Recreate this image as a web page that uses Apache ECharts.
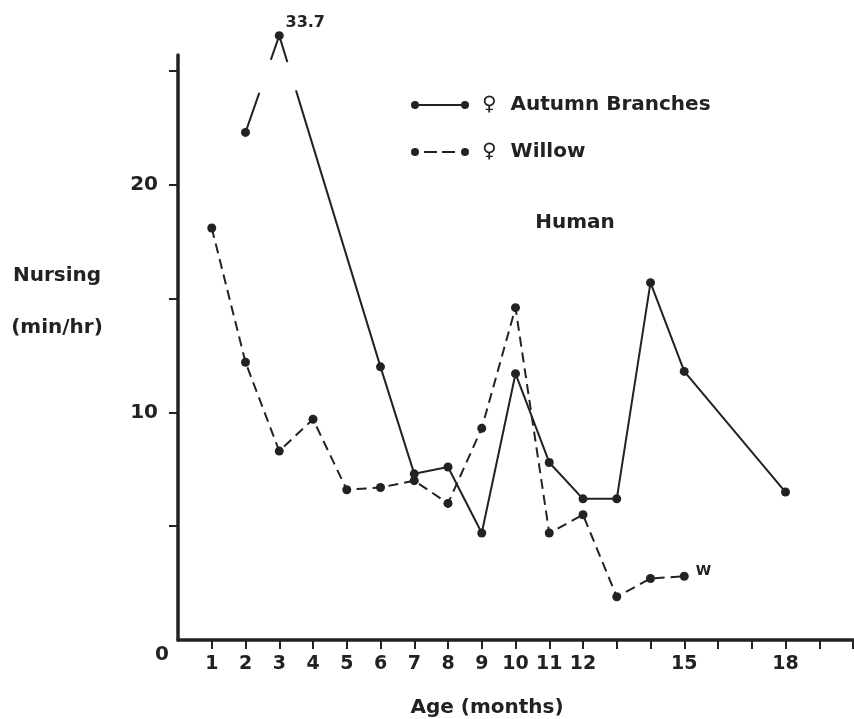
<!DOCTYPE html>
<html>
<head>
<meta charset="utf-8">
<script src="https://cdn.jsdelivr.net/npm/echarts@6.0.0/dist/echarts.min.js"></script>
<style>
html,body{margin:0;padding:0;background:#ffffff;}
#chart{width:854px;height:719px;}
</style>
</head>
<body>
<div id="chart"></div>
<script>
// ---------------- data ----------------
const autumnMonths = [2, 3, 6, 7, 8, 9, 10, 11, 12, 13, 14, 15, 18];
const autumnValues = [22.3, 33.7, 12.0, 7.3, 7.6, 4.7, 11.7, 7.8, 6.2, 6.2, 15.7, 11.8, 6.5];
const willowMonths = [1, 2, 3, 4, 5, 6, 7, 8, 9, 10, 11, 12, 13, 14, 15];
const willowValues = [18.1, 12.2, 8.3, 9.7, 6.6, 6.7, 7.0, 6.0, 9.3, 14.6, 4.7, 5.5, 1.9, 2.7, 2.8];
const xTickValues = [1, 2, 3, 4, 5, 6, 7, 8, 9, 10, 11, 12, 13, 14, 15, 16, 17, 18, 19, 20];
const xLabelValues = [1, 2, 3, 4, 5, 6, 7, 8, 9, 10, 11, 12, 15, 18];
const yTickValues = [5, 10, 15, 20, 25];
const yLabelValues = [10, 20];
const seriesNames = ['\u2640 Autumn Branches', '\u2640 Willow'];
const willowEndNote = 'W';
const yAxisTitle = ['Nursing', '(min/hr)'];
const xAxisTitle = 'Age (months)';
const annotation = 'Human';
const yMax = 25.7;          // top of drawn y axis
const offScaleLevel = 26.55; // drawing level for values beyond the axis (broken line)

// ---------------- styling ----------------
const INK = '#222222';
const FONT = '"DejaVu Sans", "Noto Sans", sans-serif';
const gapIn = [0.41, 0.75];    // break in the segment entering an off-scale point
const gapOut = [0.08, 0.165];  // break in the segment leaving an off-scale point

const autumnData = autumnMonths.map((m, i) => {
  const v = autumnValues[i];
  const off = v > yMax;
  const item = { value: [m, off ? offScaleLevel : v] };
  if (off) {
    item.label = {
      show: true, formatter: String(v), position: 'top', offset: [26, 5],
      color: INK, fontFamily: FONT, fontWeight: 'bold', fontSize: 16
    };
  }
  return item;
});

const willowData = willowMonths.map((m, i) => {
  const item = { value: [m, willowValues[i]] };
  if (i === willowMonths.length - 1) {
    item.label = {
      show: true, formatter: willowEndNote, position: 'right', offset: [2, -5],
      color: INK, fontFamily: FONT, fontWeight: 'bold', fontSize: 14
    };
  }
  return item;
});

// segments adjacent to off-scale points get a break
const breakData = [];
autumnValues.forEach((v, i) => {
  if (v > yMax) {
    const d = autumnData;
    if (i > 0) breakData.push([d[i - 1].value[0], d[i - 1].value[1], d[i].value[0], d[i].value[1], 0]);
    if (i < d.length - 1) breakData.push([d[i].value[0], d[i].value[1], d[i + 1].value[0], d[i + 1].value[1], 1]);
  }
});

const solidIcon = 'path://M0,4A4,4,0,1,0,8,4A4,4,0,1,0,0,4Z M8,3L50,3L50,5L8,5Z M50,4A4,4,0,1,0,58,4A4,4,0,1,0,50,4Z';
const dashIcon = 'path://M0,4A4,4,0,1,0,8,4A4,4,0,1,0,0,4Z M13,3L26,3L26,5L13,5Z M31,3L44,3L44,5L31,5Z M50,4A4,4,0,1,0,58,4A4,4,0,1,0,50,4Z';

const legendText = { color: INK, fontFamily: FONT, fontWeight: 'bold', fontSize: 20, padding: [0, 0, 0, 8] };
const legendFormatter = name => name.replace(' ', '  ');

const chart = echarts.init(document.getElementById('chart'), null, { renderer: 'canvas' });
chart.setOption({
  animation: false,
  backgroundColor: '#ffffff',
  grid: { left: 178, right: 1, top: 55, bottom: 79, containLabel: false },
  xAxis: {
    type: 'value', min: 0, max: 20, interval: 1,
    splitLine: { show: false },
    axisLine: { show: true, onZero: false, lineStyle: { color: INK, width: 3.5 } },
    axisTick: { show: true, length: 9, lineStyle: { color: INK, width: 2 }, customValues: xTickValues },
    axisLabel: { show: true, margin: 15, color: INK, fontFamily: FONT, fontWeight: 'bold', fontSize: 19, customValues: xLabelValues }
  },
  yAxis: {
    type: 'value', min: 0, max: yMax, interval: 5,
    splitLine: { show: false },
    axisLine: { show: true, onZero: false, lineStyle: { color: INK, width: 3.5 } },
    axisTick: { show: true, length: 9, lineStyle: { color: INK, width: 2 }, customValues: yTickValues },
    axisLabel: { show: true, margin: 20, color: INK, fontFamily: FONT, fontWeight: 'bold', fontSize: 20, customValues: yLabelValues }
  },
  legend: [
    {
      data: [{ name: seriesNames[0], icon: solidIcon }], formatter: legendFormatter,
      left: 411, top: 95, padding: 0, itemWidth: 58, itemHeight: 8,
      selectedMode: false, itemStyle: { borderWidth: 0 }, textStyle: legendText
    },
    {
      data: [{ name: seriesNames[1], icon: dashIcon }], formatter: legendFormatter,
      left: 411, top: 142, padding: 0, itemWidth: 58, itemHeight: 8,
      selectedMode: false, itemStyle: { borderWidth: 0 }, textStyle: legendText
    }
  ],
  graphic: [
    { type: 'text', x: 57, y: 276, style: { text: yAxisTitle[0], fill: INK, font: 'bold 20px ' + FONT, align: 'center', verticalAlign: 'middle' } },
    { type: 'text', x: 57, y: 328, style: { text: yAxisTitle[1], fill: INK, font: 'bold 20px ' + FONT, align: 'center', verticalAlign: 'middle' } },
    { type: 'text', x: 162, y: 655, style: { text: '0', fill: INK, font: 'bold 20px ' + FONT, align: 'center', verticalAlign: 'middle' } },
    { type: 'text', x: 487, y: 708, style: { text: xAxisTitle, fill: INK, font: 'bold 20px ' + FONT, align: 'center', verticalAlign: 'middle' } },
    { type: 'text', x: 575, y: 223, style: { text: annotation, fill: INK, font: 'bold 20px ' + FONT, align: 'center', verticalAlign: 'middle' } }
  ],
  series: [
    {
      name: seriesNames[0], type: 'line', data: autumnData, clip: false, z: 3,
      symbol: 'circle', symbolSize: 9, showAllSymbol: true,
      itemStyle: { color: INK, borderWidth: 0 },
      lineStyle: { color: INK, width: 2, type: 'solid' },
      emphasis: { disabled: true }
    },
    {
      name: seriesNames[1], type: 'line', data: willowData, clip: false, z: 2,
      symbol: 'circle', symbolSize: 9, showAllSymbol: true,
      itemStyle: { color: INK, borderWidth: 0 },
      lineStyle: { color: INK, width: 2, type: [10, 6] },
      emphasis: { disabled: true }
    },
    {
      type: 'custom', data: breakData, z: 4, silent: true, clip: false,
      renderItem: function (params, api) {
        const p1 = api.coord([api.value(0), api.value(1)]);
        const p2 = api.coord([api.value(2), api.value(3)]);
        const g = api.value(4) === 0 ? gapIn : gapOut;
        return {
          type: 'line',
          shape: {
            x1: p1[0] + (p2[0] - p1[0]) * g[0], y1: p1[1] + (p2[1] - p1[1]) * g[0],
            x2: p1[0] + (p2[0] - p1[0]) * g[1], y2: p1[1] + (p2[1] - p1[1]) * g[1]
          },
          style: { stroke: '#ffffff', lineWidth: 6 }
        };
      }
    }
  ]
});
</script>
</body>
</html>
